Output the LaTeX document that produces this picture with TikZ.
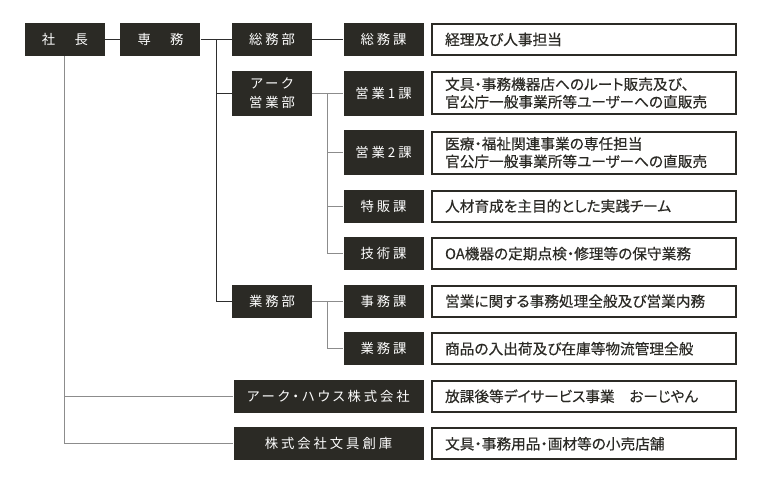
\documentclass[tikz,border=0pt]{standalone}
\usepackage{fontspec}
\usepackage{xcolor}
\usepackage{tikz}
\usetikzlibrary{positioning, calc}
\setmainfont{Noto Sans CJK JP}[RawFeature=+palt]
\newfontfamily\postfont[LetterSpace=22, RawFeature=+palt]{Noto Sans CJK JP}
\newfontfamily\dutyfont[FakeBold=0.35, RawFeature=+palt]{Noto Sans CJK JP}
\definecolor{boxdark}{HTML}{2B2A25}
\definecolor{linedark}{HTML}{2E2E2E}
\definecolor{linegray}{HTML}{8C8C8C}
\definecolor{textdark}{HTML}{2B2A25}
\tikzstyle{post} = [rectangle, fill=boxdark, text=white, minimum width=60pt, minimum height=24.75pt, inner sep=0pt, align=center, font=\postfont\fontsize{10pt}{14pt}\selectfont]
\tikzstyle{tallpost} = [post, minimum height=33.75pt]
\tikzstyle{widepost} = [post, minimum width=142.5pt]
\tikzstyle{duty} = [rectangle, draw=boxdark, line width=1.5pt, fill=white, minimum width=226.5pt, minimum height=23.25pt, text width=208pt, inner xsep=10pt, inner ysep=0pt, align=left, text=textdark, font=\dutyfont\fontsize{11pt}{13.2pt}\selectfont]
\tikzstyle{tallduty} = [duty, minimum height=31.5pt]
\tikzstyle{link} = [line width=0.8pt, color=linegray]
\tikzstyle{mainlink} = [line width=0.8pt, color=linedark]

\begin{document}
\begin{tikzpicture}[x=0.75pt, y=-0.75pt]
    \useasboundingbox (0,0) rectangle (762,479);

    % sections column
    \node[post] (gensec) at (383.5,39.5) {総務課};
    \node[tallpost, below=10.5pt of gensec] (sales1) {営業1課};
    \node[tallpost, below=10.5pt of sales1] (sales2) {営業2課};
    \node[post, below=10.5pt of sales2] (special) {特販課};
    \node[post, below=10.5pt of special] (tech) {技術課};
    \node[post, below=10.5pt of tech] (office) {事務課};
    \node[post, below=10.5pt of office] (ops) {業務課};
    \node[widepost, anchor=north east] (house) at ([yshift=-10.5pt]ops.south east) {アーク・ハウス株式会社};
    \node[widepost, below=10.5pt of house] (souko) {株式会社文具創庫};

    % departments and top
    \node[post, left=23.25pt of gensec] (gendept) {総務部};
    \node[tallpost, left=23.25pt of sales1] (arkdept) {アーク\\営業部};
    \node[post, left=23.25pt of office] (opsdept) {業務部};
    \node[post, left=23.25pt of gendept] (exec) {専　務};
    \node[post, left=11.25pt of exec] (pres) {社　長};

    % duties
    \node[duty, right=5.25pt of gensec] (dgen) {経理及び人事担当};
    \node[tallduty, right=5.25pt of sales1] (dsales1) {文具・事務機器店へのルート販売及び、\\官公庁一般事業所等ユーザーへの直販売};
    \node[tallduty, right=5.25pt of sales2] (dsales2) {医療・福祉関連事業の専任担当\\官公庁一般事業所等ユーザーへの直販売};
    \node[duty, right=5.25pt of special] (dspecial) {人材育成を主目的とした実践チーム};
    \node[duty, right=5.25pt of tech] (dtech) {OA機器の定期点検・修理等の保守業務};
    \node[duty, right=5.25pt of office] (doffice) {営業に関する事務処理全般及び営業内務};
    \node[duty, right=5.25pt of ops] (dops) {商品の入出荷及び在庫等物流管理全般};
    \node[duty, right=5.25pt of house] (dhouse) {放課後等デイサービス事業　おーじやん};
    \node[duty, right=5.25pt of souko] (dsouko) {文具・事務用品・画材等の小売店舗};

    % junctions
    \coordinate (jexec) at ($(exec.east)!0.5!(gendept.west)$);
    \coordinate (jark) at ($(arkdept.east)!0.5!(sales1.west)$);
    \coordinate (jops) at ($(opsdept.east)!0.5!(office.west)$);

    \draw[mainlink] (pres) -- (exec);
    \draw[link] (pres.south) |- (house.west);
    \draw[link] (pres.south) |- (souko.west);
    \draw[mainlink] (exec) -- (gendept);
    \draw[mainlink] (jexec) |- (arkdept.west);
    \draw[mainlink] (jexec) |- (opsdept.west);
    \draw[mainlink] (gendept) -- (gensec);
    \draw[link] (arkdept) -- (sales1);
    \draw[link] (jark) |- (sales2.west);
    \draw[link] (jark) |- (special.west);
    \draw[link] (jark) |- (tech.west);
    \draw[link] (opsdept) -- (office);
    \draw[link] (jops) |- (ops.west);
\end{tikzpicture}
\end{document}
